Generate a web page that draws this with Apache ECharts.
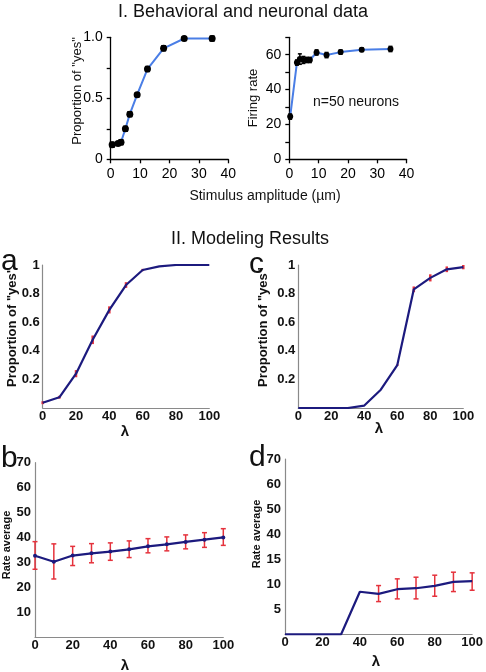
<!DOCTYPE html>
<html>
<head>
<meta charset="utf-8">
<script src="https://cdn.jsdelivr.net/npm/echarts@6/dist/echarts.min.js"></script>
<style>html,body{margin:0;padding:0;background:#fff}#c{width:486px;height:672px}</style>
</head>
<body>
<div id="c"></div>
<script>
// ---- Part I: behavioral data ----
const behavX = [0.5, 2.5, 3.5, 5, 6.5, 9, 12.5, 18, 25, 34.5];
const behavY = [0.12, 0.13, 0.14, 0.25, 0.37, 0.53, 0.74, 0.91, 0.99, 0.99];
const behavErr = [0.02, 0.015, 0.02, 0.02, 0.02, 0.015, 0.02, 0.02, 0.015, 0.02];
const behavYTickVals = [0, 0.5, 1];
const behavYTickLabels = ['0', '0.5', '1.0'];
// ---- Part I: neuronal data ----
const fireX = [0.3, 2.6, 3.6, 4.8, 5.9, 7.0, 9.3, 12.7, 17.5, 24.7, 34.5];
const fireY = [24.5, 55.5, 57.5, 57, 57, 57, 61.3, 59.8, 61.5, 62.9, 63.3];
const fireErr = [1.5, 1.5, 3, 2, 1.5, 1.5, 1.5, 1.5, 1.2, 1, 1.5];
const fireYTickVals = [0, 20, 40, 60];
const stimTicks = [0, 10, 20, 30, 40];
// ---- Part II ----
const lambda = [0, 10, 20, 30, 40, 50, 60, 70, 80, 90, 100];
// panel a
const propA = [0.037, 0.075, 0.24, 0.477, 0.686, 0.86, 0.965, 0.99, 1.0, 1.0, 1.0];
const errA  = [0.01, 0.01, 0.025, 0.03, 0.025, 0.02, 0.008, 0, 0, 0, 0];
// panel c
const propC = [0, 0, 0, 0, 0.017, 0.128, 0.30, 0.83, 0.91, 0.97, 0.985];
const errC  = [0, 0, 0, 0, 0, 0, 0.005, 0.02, 0.025, 0.02, 0.015];
// panel b
const rateB = [32.6, 30.2, 32.7, 33.6, 34.3, 35.2, 36.4, 37.2, 38.2, 39.1, 40.0];
const lowB  = [27.2, 23.3, 28.7, 29.8, 30.8, 31.9, 33.8, 34.6, 35.4, 36.0, 36.8];
const highB = [38.3, 37.4, 36.4, 37.5, 37.8, 38.6, 39.5, 40.2, 41.0, 41.9, 43.5];
// panel d (values in the panel's own tick units)
const rateD = [0, 0, 0, 0, 8.5, 8.07, 9.0, 9.2, 9.67, 10.47, 10.6];
const lowD  = [null, null, null, null, null, 6.53, 7.07, 7.07, 7.6, 8.53, 8.8];
const highD = [null, null, null, null, null, 9.73, 11.07, 11.4, 11.8, 12.4, 12.27];
const dTickVals = [5, 10, 15, 20, 25, 30, 35];
const dTickLabels = ['5', '10', '15', '40', '50', '60', '70'];

const FONT = "'Liberation Sans', Arial, sans-serif";
const NAVY = '#1c1a7e';
const RED = '#e5323c';
const BLUE = '#4a7ee6';

function pairs(xs, ys) { return xs.map((x, i) => [x, ys[i]]); }
function errData(xs, lo, hi) {
  const out = [];
  xs.forEach((x, i) => { if (lo[i] != null && hi[i] != null && hi[i] > lo[i]) out.push([x, lo[i], hi[i]]); });
  return out;
}
function symErr(xs, ys, es) {
  return errData(xs, ys.map((y, i) => y - es[i]), ys.map((y, i) => y + es[i]));
}
function errRender(capW, color, lw) {
  return function (params, api) {
    const x = api.value(0), lo = api.value(1), hi = api.value(2);
    const a = api.coord([x, lo]), b = api.coord([x, hi]);
    const st = { stroke: color, lineWidth: lw };
    const ch = [{ type: 'line', shape: { x1: a[0], y1: a[1], x2: b[0], y2: b[1] }, style: st }];
    if (capW > 0) {
      ch.push({ type: 'line', shape: { x1: a[0] - capW / 2, y1: a[1], x2: a[0] + capW / 2, y2: a[1] }, style: st });
      ch.push({ type: 'line', shape: { x1: b[0] - capW / 2, y1: b[1], x2: b[0] + capW / 2, y2: b[1] }, style: st });
    }
    return { type: 'group', children: ch };
  };
}
// tick labels of panel d, placed through the axis scale
function dLabelRender(params, api) {
  const p = api.coord([0, api.value(1)]);
  const t = dTickLabels[api.value(2)];
  return { type: 'text', x: p[0] - 4, y: p[1],
    style: { text: t, fill: '#111', font: 'bold 13px ' + FONT, align: 'right', verticalAlign: 'middle', textAlign: 'right', textVerticalAlign: 'middle' } };
}

const chart = echarts.init(document.getElementById('c'), null, { renderer: 'canvas' });

const topAxisLine = { show: true, onZero: false, lineStyle: { color: '#000', width: 1.3 } };
const topTick = { show: true, inside: false, length: 4, lineStyle: { color: '#000', width: 1.3 } };
const topLabel = { color: '#000', fontSize: 14, fontFamily: FONT };
const botAxisLine = { show: true, onZero: false, lineStyle: { color: '#8a8a8a', width: 1.2 } };
const botLabel = { color: '#111', fontSize: 13, fontWeight: 'bold', fontFamily: FONT };

function fmtNum(v) { return String(Math.round(v * 10) / 10); }

const option = {
  animation: false,
  backgroundColor: '#fff',
  grid: [
    { left: 110.7, top: 37.3, width: 117.6, height: 122 },
    { left: 289.3, top: 37.3, width: 117.3, height: 122 },
    { left: 42.7, top: 265, width: 166.6, height: 143 },
    { left: 298.3, top: 265, width: 165, height: 143 },
    { left: 35, top: 462.7, width: 188.3, height: 174.3 },
    { left: 285, top: 459, width: 187.7, height: 175.3 }
  ],
  xAxis: [
    { gridIndex: 0, type: 'value', min: 0, max: 40, interval: 10, axisLine: topAxisLine, axisTick: topTick, splitLine: { show: false },
      axisLabel: Object.assign({ margin: 8, formatter: v => stimTicks.includes(v) ? String(v) : '' }, topLabel) },
    { gridIndex: 1, type: 'value', min: 0, max: 40, interval: 10, axisLine: topAxisLine, axisTick: topTick, splitLine: { show: false },
      axisLabel: Object.assign({ margin: 8, formatter: v => stimTicks.includes(v) ? String(v) : '' }, topLabel) },
    { gridIndex: 2, type: 'value', min: 0, max: 100, interval: 20, axisLine: botAxisLine, axisTick: { show: false }, splitLine: { show: false },
      axisLabel: Object.assign({ margin: 2 }, botLabel) },
    { gridIndex: 3, type: 'value', min: 0, max: 100, interval: 20, axisLine: botAxisLine, axisTick: { show: false }, splitLine: { show: false },
      axisLabel: Object.assign({ margin: 2 }, botLabel) },
    { gridIndex: 4, type: 'value', min: 0, max: 100, interval: 20, axisLine: botAxisLine, axisTick: { show: false }, splitLine: { show: false },
      axisLabel: Object.assign({ margin: 2 }, botLabel) },
    { gridIndex: 5, type: 'value', min: 0, max: 100, interval: 20, axisLine: botAxisLine, axisTick: { show: false }, splitLine: { show: false },
      axisLabel: Object.assign({ margin: 2 }, botLabel) }
  ],
  yAxis: [
    { gridIndex: 0, type: 'value', min: 0, max: 1, interval: 0.25, axisLine: topAxisLine, axisTick: topTick, splitLine: { show: false },
      axisLabel: Object.assign({ margin: 8, formatter: v => { const i = behavYTickVals.findIndex(t => Math.abs(t - v) < 1e-6); return i >= 0 ? behavYTickLabels[i] : ''; } }, topLabel) },
    { gridIndex: 1, type: 'value', min: 0, max: 70, interval: 10, axisLine: topAxisLine, axisTick: topTick, splitLine: { show: false },
      axisLabel: Object.assign({ margin: 8, formatter: v => fireYTickVals.includes(v) ? String(v) : '' }, topLabel) },
    { gridIndex: 2, type: 'value', min: 0, max: 1, interval: 0.2, axisLine: botAxisLine, axisTick: { show: false }, splitLine: { show: false },
      axisLabel: Object.assign({ margin: 3, formatter: v => v === 0 ? '' : fmtNum(v) }, botLabel) },
    { gridIndex: 3, type: 'value', min: 0, max: 1, interval: 0.2, axisLine: botAxisLine, axisTick: { show: false }, splitLine: { show: false },
      axisLabel: Object.assign({ margin: 3, formatter: v => v === 0 ? '' : fmtNum(v) }, botLabel) },
    { gridIndex: 4, type: 'value', min: 0, max: 70, interval: 10, axisLine: botAxisLine, axisTick: { show: false }, splitLine: { show: false },
      axisLabel: Object.assign({ margin: 4, formatter: v => v === 0 ? '' : String(v) }, botLabel) },
    { gridIndex: 5, type: 'value', min: 0, max: 35, interval: 5, axisLine: botAxisLine, axisTick: { show: false }, splitLine: { show: false },
      axisLabel: { show: false } }
  ],
  series: [
    // top-left
    { type: 'line', xAxisIndex: 0, yAxisIndex: 0, data: pairs(behavX, behavY), lineStyle: { color: BLUE, width: 2 },
      symbol: 'circle', symbolSize: 7, itemStyle: { color: '#000' }, z: 3 },
    { type: 'custom', xAxisIndex: 0, yAxisIndex: 0, data: symErr(behavX, behavY, behavErr), encode: { x: 0, y: [1, 2] },
      renderItem: errRender(5, '#000', 1.5), z: 4 },
    // top-right
    { type: 'line', xAxisIndex: 1, yAxisIndex: 1, data: pairs(fireX, fireY), lineStyle: { color: BLUE, width: 2 },
      symbol: 'circle', symbolSize: 6, itemStyle: { color: '#000' }, z: 3 },
    { type: 'custom', xAxisIndex: 1, yAxisIndex: 1, data: symErr(fireX, fireY, fireErr), encode: { x: 0, y: [1, 2] },
      renderItem: errRender(4, '#000', 1.5), z: 4 },
    // a
    { type: 'custom', xAxisIndex: 2, yAxisIndex: 2, data: symErr(lambda, propA, errA), encode: { x: 0, y: [1, 2] },
      renderItem: errRender(0, RED, 2.5), z: 2 },
    { type: 'line', xAxisIndex: 2, yAxisIndex: 2, data: pairs(lambda, propA), lineStyle: { color: NAVY, width: 2.2 },
      symbol: 'none', z: 3 },
    // c
    { type: 'custom', xAxisIndex: 3, yAxisIndex: 3, data: symErr(lambda, propC, errC), encode: { x: 0, y: [1, 2] },
      renderItem: errRender(0, RED, 2.5), z: 2 },
    { type: 'line', xAxisIndex: 3, yAxisIndex: 3, data: pairs(lambda, propC), lineStyle: { color: NAVY, width: 2.2 },
      symbol: 'none', z: 3 },
    // b
    { type: 'custom', xAxisIndex: 4, yAxisIndex: 4, data: errData(lambda, lowB, highB), encode: { x: 0, y: [1, 2] },
      renderItem: errRender(5, RED, 1.5), z: 2 },
    { type: 'line', xAxisIndex: 4, yAxisIndex: 4, data: pairs(lambda, rateB), lineStyle: { color: NAVY, width: 2.2 },
      symbol: 'circle', symbolSize: 4, itemStyle: { color: NAVY }, z: 3 },
    // d
    { type: 'custom', xAxisIndex: 5, yAxisIndex: 5, data: errData(lambda, lowD, highD), encode: { x: 0, y: [1, 2] },
      renderItem: errRender(5, RED, 1.5), z: 2 },
    { type: 'line', xAxisIndex: 5, yAxisIndex: 5, data: pairs(lambda, rateD), lineStyle: { color: NAVY, width: 2.2 },
      symbol: 'none', z: 3 },
    // d: y tick labels
    { type: 'custom', xAxisIndex: 5, yAxisIndex: 5, silent: true, clip: false, data: dTickVals.map((v, i) => [0, v, i]),
      encode: { x: 0, y: 1 }, renderItem: dLabelRender, z: 5 }
  ],
  graphic: [
    { type: 'text', x: 243, y: 12, style: { text: 'I. Behavioral and neuronal data', fill: '#111', font: '18px ' + FONT, align: 'center', verticalAlign: 'middle', textAlign: 'center', textVerticalAlign: 'middle' } },
    { type: 'text', x: 265, y: 196, style: { text: 'Stimulus amplitude (\u00b5m)', fill: '#111', font: '14px ' + FONT, align: 'center', verticalAlign: 'middle', textAlign: 'center', textVerticalAlign: 'middle' } },
    { type: 'text', x: 313, y: 102, style: { text: 'n=50 neurons', fill: '#111', font: '14px ' + FONT, align: 'left', verticalAlign: 'middle', textAlign: 'left', textVerticalAlign: 'middle' } },
    { type: 'text', x: 77, y: 91, rotation: Math.PI / 2, style: { text: 'Proportion of "yes"', fill: '#111', font: '13px ' + FONT, align: 'center', verticalAlign: 'middle', textAlign: 'center', textVerticalAlign: 'middle' } },
    { type: 'text', x: 253, y: 98, rotation: Math.PI / 2, style: { text: 'Firing rate', fill: '#111', font: '13px ' + FONT, align: 'center', verticalAlign: 'middle', textAlign: 'center', textVerticalAlign: 'middle' } },
    { type: 'text', x: 250, y: 239, style: { text: 'II. Modeling Results', fill: '#111', font: '18px ' + FONT, align: 'center', verticalAlign: 'middle', textAlign: 'center', textVerticalAlign: 'middle' } },
    // panel letters
    { type: 'text', x: 1, y: 277, style: { text: 'a', fill: '#111', font: '30px ' + FONT, align: 'left', verticalAlign: 'bottom', textAlign: 'left', textVerticalAlign: 'bottom' } },
    { type: 'text', x: 249, y: 280, style: { text: 'c', fill: '#111', font: '30px ' + FONT, align: 'left', verticalAlign: 'bottom', textAlign: 'left', textVerticalAlign: 'bottom' } },
    { type: 'text', x: 1, y: 474, style: { text: 'b', fill: '#111', font: '30px ' + FONT, align: 'left', verticalAlign: 'bottom', textAlign: 'left', textVerticalAlign: 'bottom' } },
    { type: 'text', x: 249, y: 473, style: { text: 'd', fill: '#111', font: '30px ' + FONT, align: 'left', verticalAlign: 'bottom', textAlign: 'left', textVerticalAlign: 'bottom' } },
    // y labels bottom
    { type: 'text', x: 12, y: 327, rotation: Math.PI / 2, style: { text: 'Proportion of "yes"', fill: '#111', font: 'bold 13px ' + FONT, align: 'center', verticalAlign: 'middle', textAlign: 'center', textVerticalAlign: 'middle' } },
    { type: 'text', x: 263, y: 327, rotation: Math.PI / 2, style: { text: 'Proportion of "yes"', fill: '#111', font: 'bold 13px ' + FONT, align: 'center', verticalAlign: 'middle', textAlign: 'center', textVerticalAlign: 'middle' } },
    { type: 'text', x: 7, y: 545, rotation: Math.PI / 2, style: { text: 'Rate average', fill: '#111', font: 'bold 11px ' + FONT, align: 'center', verticalAlign: 'middle', textAlign: 'center', textVerticalAlign: 'middle' } },
    { type: 'text', x: 257, y: 534, rotation: Math.PI / 2, style: { text: 'Rate average', fill: '#111', font: 'bold 11px ' + FONT, align: 'center', verticalAlign: 'middle', textAlign: 'center', textVerticalAlign: 'middle' } },
    // lambda labels
    { type: 'text', x: 125, y: 432, style: { text: '\u03bb', fill: '#111', font: 'bold 15px ' + FONT, align: 'center', verticalAlign: 'middle', textAlign: 'center', textVerticalAlign: 'middle' } },
    { type: 'text', x: 379, y: 429, style: { text: '\u03bb', fill: '#111', font: 'bold 15px ' + FONT, align: 'center', verticalAlign: 'middle', textAlign: 'center', textVerticalAlign: 'middle' } },
    { type: 'text', x: 125, y: 666, style: { text: '\u03bb', fill: '#111', font: 'bold 15px ' + FONT, align: 'center', verticalAlign: 'middle', textAlign: 'center', textVerticalAlign: 'middle' } },
    { type: 'text', x: 376, y: 662, style: { text: '\u03bb', fill: '#111', font: 'bold 15px ' + FONT, align: 'center', verticalAlign: 'middle', textAlign: 'center', textVerticalAlign: 'middle' } }
  ]
};
chart.setOption(option);
</script>
</body>
</html>
